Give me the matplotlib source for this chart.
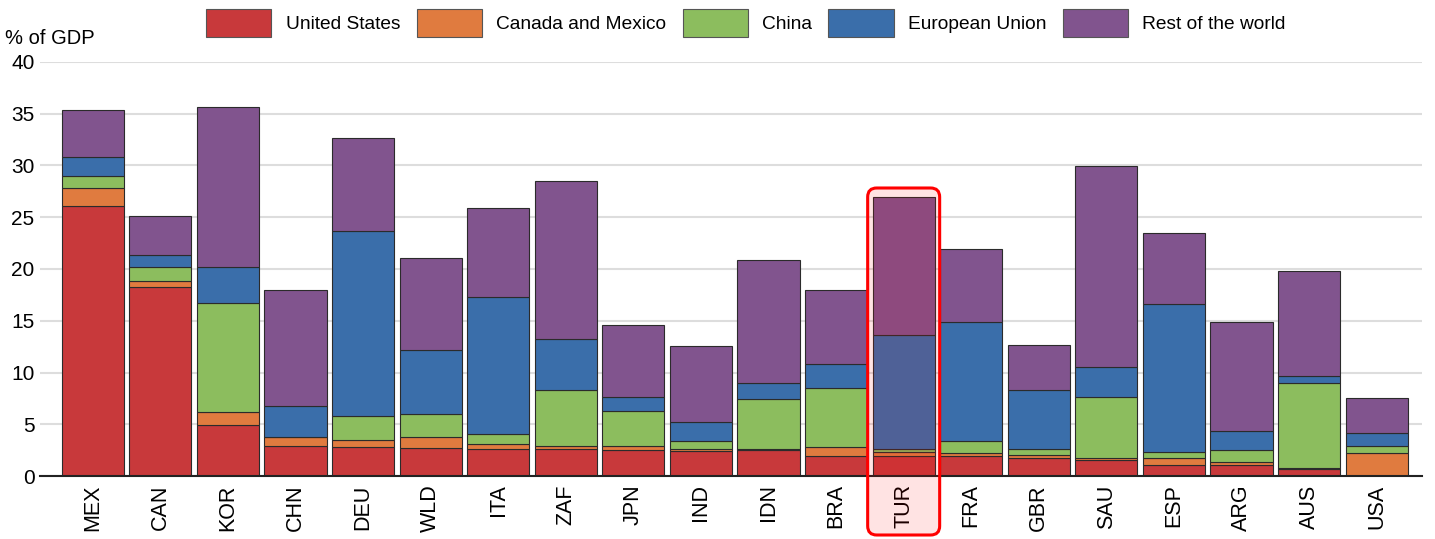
import matplotlib
matplotlib.use("Agg")
import matplotlib.pyplot as plt
import numpy as np
from matplotlib.patches import FancyBboxPatch, Patch
from matplotlib.transforms import blended_transform_factory

plt.rcParams['font.family'] = ['Liberation Sans', 'DejaVu Sans']

countries = ["MEX", "CAN", "KOR", "CHN", "DEU", "WLD", "ITA", "ZAF", "JPN", "IND",
             "IDN", "BRA", "TUR", "FRA", "GBR", "SAU", "ESP", "ARG", "AUS", "USA"]
series_names = ["United States", "Canada and Mexico", "China", "European Union", "Rest of the world"]

united_states = [26.1, 18.3, 4.9, 2.9, 2.8, 2.7, 2.6, 2.6, 2.5, 2.4,
                 2.5, 1.9, 1.9, 1.9, 1.7, 1.5, 1.1, 1.1, 0.7, 0.0]
canada_mexico = [1.7, 0.5, 1.3, 0.9, 0.7, 1.1, 0.5, 0.3, 0.4, 0.2,
                 0.1, 0.9, 0.4, 0.3, 0.3, 0.2, 0.6, 0.3, 0.1, 2.2]
china = [1.2, 1.4, 10.5, 0.0, 2.3, 2.2, 1.0, 5.4, 3.4, 0.8,
         4.8, 5.7, 0.3, 1.2, 0.6, 5.9, 0.6, 1.1, 8.2, 0.7]
european_union = [1.8, 1.2, 3.5, 3.0, 17.9, 6.2, 13.2, 4.9, 1.3, 1.8,
                  1.6, 2.3, 11.0, 11.5, 5.7, 2.9, 14.3, 1.8, 0.7, 1.3]
rest_of_world = [4.6, 3.7, 15.5, 11.2, 9.0, 8.9, 8.6, 15.3, 7.0, 7.4,
                 11.9, 7.2, 13.4, 7.0, 4.4, 19.5, 6.9, 10.6, 10.1, 3.3]

yticks = [0, 5, 10, 15, 20, 25, 30, 35, 40]
highlight = "TUR"

colors = ['#C8393B', '#E07B3F', '#8CBD5E', '#3A6EAA', '#81548E']

fig = plt.figure(figsize=(14.35, 5.39), dpi=100)
ax = fig.add_axes([40/1435, (539-476)/539, (1422-40)/1435, (476-62)/539])

x = np.arange(len(countries))
bottom = np.zeros(len(countries))
all_series = [united_states, canada_mexico, china, european_union, rest_of_world]
for vals, col in zip(all_series, colors):
    v = np.array(vals)
    ax.bar(x, v, bottom=bottom, width=0.92, color=col, edgecolor='#2b2b2b',
           linewidth=0.8, zorder=3)
    bottom += v

ax.set_xlim(-0.78, len(countries) - 0.33)
ax.set_ylim(0, 40)
ax.set_yticks(yticks)
ax.set_yticklabels([str(t) for t in yticks], fontsize=15)
ax.yaxis.grid(True, color='#DDDDDD', linewidth=1.5, zorder=0)
ax.set_axisbelow(True)
ax.tick_params(axis='y', length=0, pad=4)
ax.tick_params(axis='x', length=0, pad=6)
ax.set_xticks(x)
ax.set_xticklabels(countries, rotation=90, fontsize=15.5)
for s in ['top', 'right', 'left']:
    ax.spines[s].set_visible(False)
ax.spines['bottom'].set_color('#222222')
ax.spines['bottom'].set_linewidth(1.5)
ax.spines['bottom'].set_zorder(4)

fig.text(5/1435, 1 - 38/539, "% of GDP", fontsize=14.5, va='center', ha='left')

handles = [Patch(facecolor=c, edgecolor='#555555', linewidth=0.8) for c in colors]
fig.legend(handles, series_names, loc='upper center', bbox_to_anchor=(746/1435, 1.0),
           ncol=5, frameon=False, fontsize=13.8, handlelength=3.4, handleheight=1.9,
           handletextpad=0.75, columnspacing=0.85, borderaxespad=0.05)

# highlight box around TUR
idx = countries.index(highlight)
trans = blended_transform_factory(ax.transData, ax.transAxes)
px_per_x = (1422-40) / (ax.get_xlim()[1] - ax.get_xlim()[0])
ax_h = 476 - 62
half_w = 36 / px_per_x
y_top = (476 - 188) / ax_h
y_bot = (476 - 535) / ax_h
r = 9 / px_per_x
box = FancyBboxPatch((idx - half_w, y_bot), 2*half_w, y_top - y_bot,
                     boxstyle=f"round,pad=0,rounding_size={r}",
                     mutation_aspect=px_per_x/ax_h,
                     transform=trans, facecolor=(1, 0, 0, 0.11), edgecolor='#FF0000',
                     linewidth=2.2, clip_on=False, zorder=5)
ax.add_patch(box)

fig.savefig("out.png", dpi=100)
